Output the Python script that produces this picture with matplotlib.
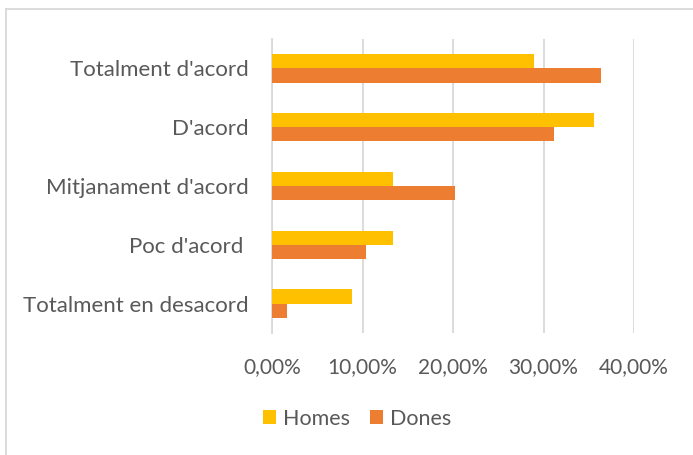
import matplotlib.pyplot as plt
import numpy as np
from matplotlib.lines import Line2D
from matplotlib.ticker import FuncFormatter

categories = ["Totalment d'acord", "D'acord", "Mitjanament d'acord",
              "Poc d'acord ", "Totalment en desacord"]
homes = [28.9, 35.6, 13.4, 13.4, 8.8]
dones = [36.4, 31.2, 20.2, 10.4, 1.7]
ticks = [0, 10, 20, 30, 40]

plt.rcParams['font.family'] = ['Lato', 'DejaVu Sans']
txt = '#595959'

fig = plt.figure(figsize=(6.93, 4.55), dpi=100)
ax = fig.add_axes([272 / 693, 1 - 333 / 455, 362 / 693, 294 / 455])

y = np.arange(len(categories))
h = 0.24
ax.barh(y - h / 2, homes, height=h, color='#FFC000', label='Homes', zorder=3)
ax.barh(y + h / 2, dones, height=h, color='#ED7D31', label='Dones', zorder=3)

ax.set_ylim(len(categories) - 0.5, -0.5)
ax.set_xlim(0, 40)
ax.set_xticks(ticks)
ax.xaxis.set_major_formatter(FuncFormatter(lambda v, p: f'{v:.2f}%'.replace('.', ',')))
ax.set_yticks(y)
ax.set_yticklabels(categories)
ax.tick_params(length=0, colors=txt)
ax.tick_params(axis='x', pad=17, labelsize=15)
ax.tick_params(axis='y', pad=16.5, labelsize=16)
ax.grid(axis='x', color='#d9d9d9', linewidth=1.3, zorder=0)
for s in ['top', 'right', 'bottom']:
    ax.spines[s].set_visible(False)
ax.spines['left'].set_color('#d9d9d9')
ax.spines['left'].set_linewidth(1.3)

ax.legend(loc='center', bbox_to_anchor=(357 / 693, 1 - 419 / 455),
          bbox_transform=fig.transFigure, ncol=2, frameon=False,
          fontsize=15.5, labelcolor=txt, handlelength=0.62, handleheight=0.62,
          handletextpad=0.3, columnspacing=0.95)

# chart area border
fig.add_artist(Line2D([6 / 693, 1], [1 - 9 / 455, 1 - 9 / 455], color='#d9d9d9', lw=1.3))
fig.add_artist(Line2D([6 / 693, 6 / 693], [0, 1 - 9 / 455], color='#d9d9d9', lw=1.3))

fig.savefig('out.png', dpi=100)
